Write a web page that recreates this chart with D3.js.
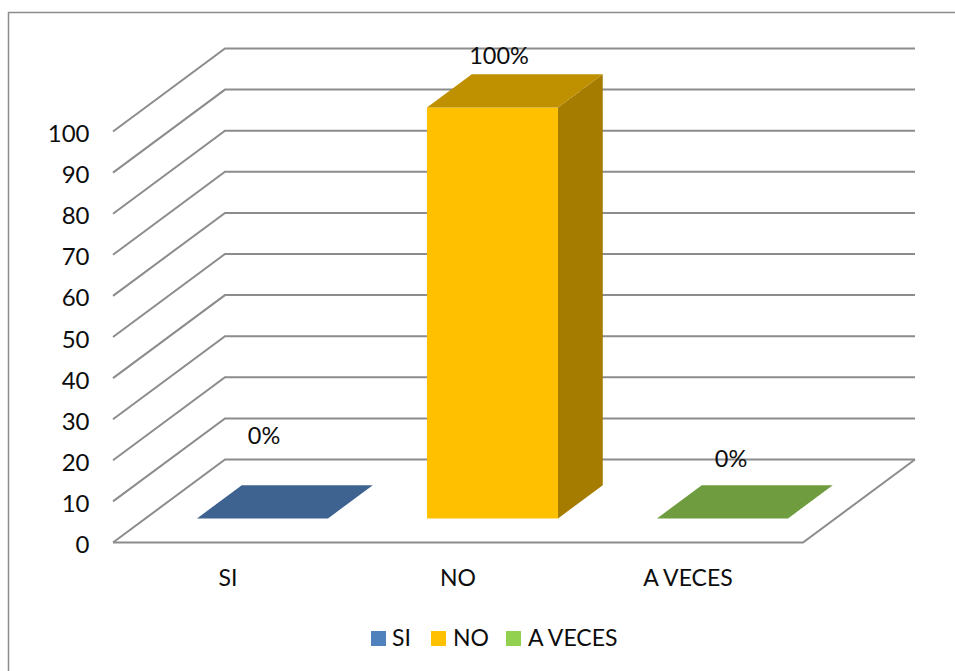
<!DOCTYPE html>
<html><head><meta charset="utf-8">
<script src="https://cdn.jsdelivr.net/npm/d3@7"></script>
<style>html,body{margin:0;padding:0;background:#fff}svg{display:block}text{font-family:Lato,"Open Sans",sans-serif;fill:#0d0d0d}</style>
</head><body><svg id="c" width="955" height="671"></svg>
<script>
const categories = ["SI","NO","A VECES"];
const values = [0,100,0];
const valueLabels = ["0%","100%","0%"];
const yTicks = [0,10,20,30,40,50,60,70,80,90,100];
const frontColors = ["#4F81BD","#FFC000","#9BBB59"];
const topColors = ["#3F6390","#BF9000","#6F9C3E"];
const sideColors = ["#2F4B6E","#A67C00","#5A7A30"];
const legendColors = ["#4F81BD","#FFC000","#92D050"];

const svg = d3.select("#c");
const fx0=113, fx1=803, dx=112, dy=-83;
const y = d3.scaleLinear().domain([0,100]).range([542.5,131.5]);
const x = d3.scaleBand().domain(categories).range([fx0,fx1]);
const line = d3.line();

// frame
svg.append("path").attr("d","M8.5,671V12.5H955").attr("fill","none").attr("stroke","#8c8c8c").attr("stroke-width",1.5);

// gridlines
const grid = svg.append("g").attr("fill","none").attr("stroke","#8c8c8c").attr("stroke-width",2);
yTicks.forEach(t=>{
  grid.append("path").attr("d",line([[fx0,y(t)],[fx0+dx,y(t)+dy],[fx1+dx,y(t)+dy]]));
});
// floor front and right edges
grid.append("path").attr("d",line([[fx0,y(0)],[fx1,y(0)],[fx1+dx,y(0)+dy]]));

// y axis labels
svg.append("g").selectAll("text").data(yTicks).join("text")
  .attr("x",89.5).attr("y",d=>y(d)+10.5).attr("text-anchor","end").attr("font-size",24).text(d=>d);

// category labels
svg.append("g").selectAll("text").data(categories).join("text")
  .attr("x",d=>x(d)+x.bandwidth()/2).attr("y",586).attr("text-anchor","middle").attr("font-size",23).text(d=>d);

// bars
const zFront=0.29, zBack=0.69, barW=131;
const barX = c=>x(c)+x.bandwidth()/2-barW/2+zFront*dx+2;
const base = y(0)+zFront*dy;
const depthX=(zBack-zFront)*dx, depthY=(zBack-zFront)*dy;
categories.forEach((c,i)=>{
  const x0=barX(c), x1=x0+barW, yb=base, yt=y(values[i])+zFront*dy;
  if(values[i]>0){
    svg.append("path").attr("fill",sideColors[i]).attr("d",line([[x1,yb],[x1+depthX,yb+depthY],[x1+depthX,yt+depthY],[x1,yt]])+"Z");
    svg.append("path").attr("fill",frontColors[i]).attr("d",line([[x0,yb],[x1,yb],[x1,yt],[x0,yt]])+"Z");
  }
  svg.append("path").attr("fill",topColors[i]).attr("d",line([[x0,yt],[x1,yt],[x1+depthX,yt+depthY],[x0+depthX,yt+depthY]])+"Z");
});

// value labels
const lblPos=[[264,444],[499,64],[731,467]];
svg.append("g").selectAll("text").data(valueLabels).join("text")
  .attr("x",(d,i)=>lblPos[i][0]).attr("y",(d,i)=>lblPos[i][1]).attr("text-anchor","middle").attr("font-size",23.5).text(d=>d);

// legend
const lx=[371,431,506];
const tx=[392,453,528];
const lg=svg.append("g");
categories.forEach((c,i)=>{
  lg.append("rect").attr("x",lx[i]).attr("y",631).attr("width",15).attr("height",15).attr("fill",legendColors[i]);
  lg.append("text").attr("x",tx[i]).attr("y",646).attr("font-size",23).text(c);
});
</script></body></html>
